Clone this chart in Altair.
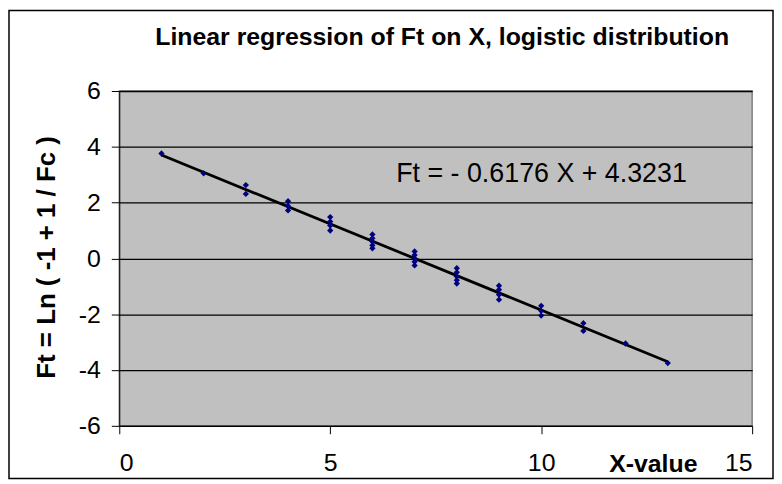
import altair as alt
import pandas as pd

# ---- data ----
x_vals = [1, 2, 3, 3, 4, 4, 4, 5, 5, 5, 5, 6, 6, 6, 6, 6,
          7, 7, 7, 7, 7, 8, 8, 8, 8, 8, 9, 9, 9, 9, 10, 10, 10, 11, 11, 12, 13]
ft_vals = [3.76, 3.05, 2.63, 2.31, 2.05, 1.88, 1.72, 1.48, 1.32, 1.18, 1.00,
           0.86, 0.72, 0.60, 0.47, 0.36, 0.25, 0.12, 0.00, -0.12, -0.25,
           -0.35, -0.50, -0.65, -0.78, -0.90, -0.98, -1.12, -1.30, -1.48,
           -1.70, -1.88, -2.05, -2.32, -2.60, -3.05, -3.75]
slope = -0.6176
intercept = 4.3231
line_x = [1, 13]
x_ticks = [0, 5, 10, 15]
y_ticks = [-6, -4, -2, 0, 2, 4, 6]
title_text = "Linear regression of Ft on X, logistic distribution"
eq_text = "Ft = - 0.6176 X + 4.3231"
x_title = "X-value"
y_title = "Ft = Ln ( -1 + 1 / Fc )"

FONT = "Liberation Sans"

pts = pd.DataFrame({"x": x_vals, "ft": ft_vals})
line = pd.DataFrame({"x": line_x, "ft": [slope * v + intercept for v in line_x]})
dummy = pd.DataFrame({"t": [0]})

xscale = alt.Scale(domain=[0, 15], nice=False, zero=False)
yscale = alt.Scale(domain=[-6, 6], nice=False, zero=False)

xaxis = alt.Axis(values=x_ticks, grid=False, title=x_title, domainColor="#000000",
                 tickColor="#000000", tickSize=8, labelFontSize=25, labelFont=FONT,
                 labelColor="#000000", labelPadding=17, labelExpr="'' + datum.value",
                 titleFontSize=25, titleFont=FONT, titleFontWeight="bold",
                 titleColor="#000000", titleX=537, titleY=38,
                 titleBaseline="middle", titleAlign="center")
yaxis = alt.Axis(values=y_ticks, grid=True, gridColor="#000000", gridWidth=1.3,
                 title=y_title, domainColor="#000000", tickColor="#000000",
                 tickSize=8, labelFontSize=25, labelFont=FONT, labelColor="#000000",
                 labelPadding=11, labelExpr="'' + datum.value",
                 titleFontSize=26, titleFont=FONT,
                 titleFontWeight="bold", titleColor="#000000", titleX=-73, titleY=167,
                 titleAngle=270, titleBaseline="middle", titleAlign="center")

points = alt.Chart(pts).mark_point(shape="diamond", filled=True, size=40,
                                   color="#000080", opacity=1).encode(
    x=alt.X("x:Q", scale=xscale, axis=xaxis),
    y=alt.Y("ft:Q", scale=yscale, axis=yaxis),
)

reg = alt.Chart(line).mark_line(color="#000000", strokeWidth=2.8).encode(
    x=alt.X("x:Q", scale=xscale),
    y=alt.Y("ft:Q", scale=yscale),
)

eq = alt.Chart(dummy).mark_text(text=eq_text, font=FONT, fontSize=27,
                                color="#000000", align="center",
                                baseline="middle").encode(
    x=alt.value(425), y=alt.value(84))

title = alt.Chart(dummy).mark_text(text=title_text, font=FONT, fontSize=25,
                                   fontWeight="bold", color="#000000",
                                   align="center", baseline="middle").encode(
    x=alt.value(325), y=alt.value(-54))

border = alt.Chart(dummy).mark_rect(filled=False, stroke="#000000",
                                    strokeWidth=1.5).encode(
    x=alt.value(-111), x2=alt.value(658), y=alt.value(-81), y2=alt.value(390))

chart = alt.layer(border, reg, points, eq, title).properties(
    width=637, height=337,
    autosize="none",
    padding={"left": 112, "top": 82, "right": 22, "bottom": 55},
).configure_view(fill="#C0C0C0", stroke="#808080", strokeWidth=1.5)

chart.save("out.html", embed_options={"renderer": "svg", "actions": False})
